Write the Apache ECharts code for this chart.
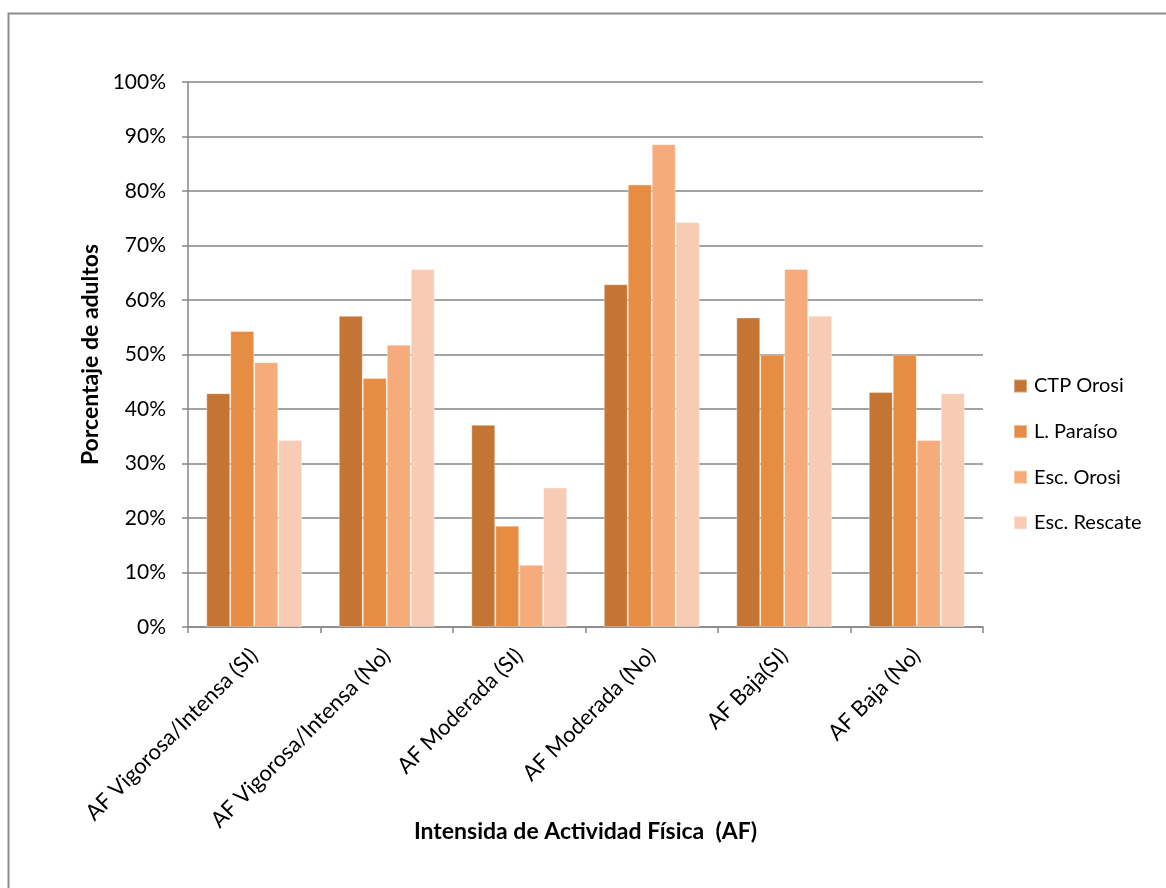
<!DOCTYPE html>
<html>
<head>
<meta charset="utf-8">
<script src="https://cdn.jsdelivr.net/npm/echarts@6/dist/echarts.min.js"></script>
<style>
  html, body { margin: 0; padding: 0; background: #fff; }
  #chart { width: 1166px; height: 888px; }
</style>
</head>
<body>
<div id="chart"></div>
<script>
// Physical activity intensity by school group (% of adults)
const categories = [
  'AF Vigorosa/Intensa (SI)',
  'AF Vigorosa/Intensa (No)',
  'AF Moderada (SI)',
  'AF Moderada (No)',
  'AF Baja(SI)',
  'AF Baja (No)'
];
const seriesNames = ['CTP Orosi', 'L. Paraíso', 'Esc. Orosi', 'Esc. Rescate'];
const ctpOrosi    = [42.9, 57.1, 37.1, 62.9, 56.8, 43.1];
const lParaiso    = [54.3, 45.7, 18.6, 81.2, 50.0, 50.0];
const escOrosi    = [48.6, 51.8, 11.4, 88.6, 65.7, 34.3];
const escRescate  = [34.3, 65.7, 25.6, 74.3, 57.1, 42.9];
const seriesValues = [ctpOrosi, lParaiso, escOrosi, escRescate];
const seriesColors = ['#C47533', '#E68C43', '#F6AB7B', '#F8CBB4'];

const FONT = 'Lato, "Open Sans", sans-serif';
const AXIS_GRAY = '#868686';

const chart = echarts.init(document.getElementById('chart'), null, { renderer: 'canvas' });

chart.setOption({
  animation: false,
  backgroundColor: '#ffffff',
  textStyle: { fontFamily: FONT },
  graphic: [{
    type: 'rect',
    left: 6, top: 11,
    shape: { width: 1300, height: 1000 },
    style: { fill: 'none', stroke: '#8E8E8E', lineWidth: 2 },
    silent: true,
    z: -10
  }],
  grid: { left: 188, right: 183, top: 82, bottom: 261 },
  legend: {
    orient: 'vertical',
    left: 1013,
    top: 376,
    padding: 0,
    itemWidth: 13,
    itemHeight: 13,
    itemGap: 25.6,
    icon: 'rect',
    data: seriesNames,
    textStyle: { fontFamily: FONT, fontSize: 20, color: '#000', lineHeight: 20, padding: [0, 0, 0, 2] }
  },
  xAxis: {
    type: 'category',
    data: categories,
    name: 'Intensida de Actividad Física  (AF)',
    nameLocation: 'middle',
    nameGap: 193,
    nameMoveOverlap: false,
    nameTextStyle: { fontFamily: FONT, fontSize: 23, fontWeight: 'bold', color: '#000' },
    axisLine: { lineStyle: { color: AXIS_GRAY, width: 1.5 } },
    axisTick: { show: true, length: 6, alignWithLabel: false, lineStyle: { color: AXIS_GRAY, width: 1.5 } },
    axisLabel: {
      interval: 0,
      rotate: 45,
      margin: 25,
      padding: [37, 0, 0, 0],
      fontFamily: FONT,
      fontSize: 22,
      color: '#000'
    }
  },
  yAxis: {
    type: 'value',
    min: 0,
    max: 100,
    interval: 10,
    name: 'Porcentaje de adultos',
    nameLocation: 'middle',
    nameGap: 84,
    nameTextStyle: { fontFamily: FONT, fontSize: 23, fontWeight: 'bold', color: '#000' },
    axisLine: { show: true, lineStyle: { color: AXIS_GRAY, width: 1.5 } },
    axisTick: { show: true, length: 6, lineStyle: { color: AXIS_GRAY, width: 1.5 } },
    axisLabel: {
      margin: 22,
      formatter: '{value}%',
      fontFamily: FONT,
      fontSize: 21,
      color: '#000'
    },
    splitLine: { show: true, lineStyle: { color: AXIS_GRAY, width: 1.5 } }
  },
  series: seriesNames.map((name, i) => ({
    name: name,
    type: 'bar',
    data: seriesValues[i],
    barGap: '0%',
    barCategoryGap: '27.6%',
    itemStyle: {
      color: seriesColors[i],
      borderColor: 'rgba(255,255,255,0.35)',
      borderWidth: 1
    }
  }))
});
</script>
</body>
</html>
